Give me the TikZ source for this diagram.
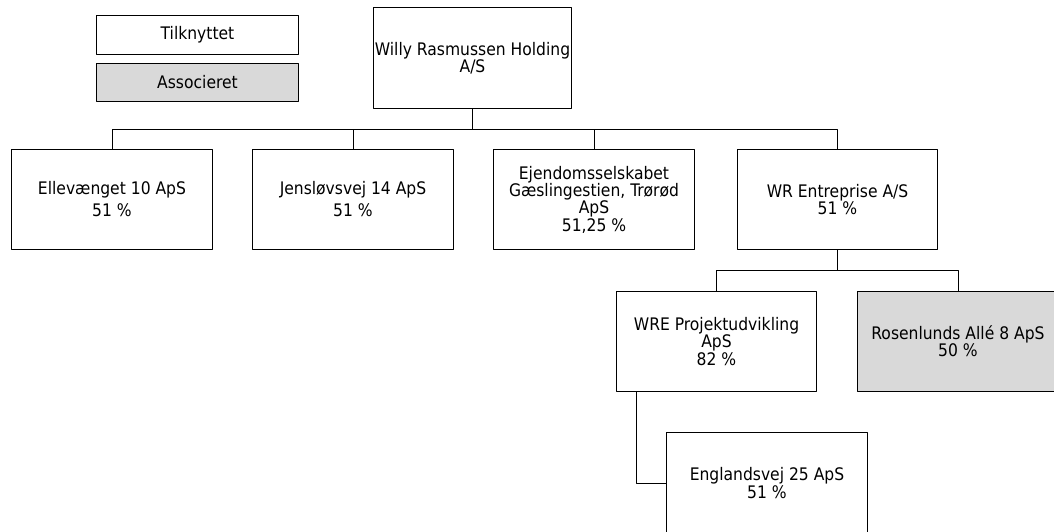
\documentclass[tikz,border=0pt]{standalone}
\usepackage{fontspec}
\setmainfont{DejaVu Sans Condensed}
\definecolor{assocgray}{RGB}{217,217,217}
\begin{document}
\begin{tikzpicture}[x = 0.025cm, y = -0.025cm, line join = round, font = \fontsize{12.3}{12.3}\selectfont,
	box/.style = {rectangle, line width = .25mm, draw = black, anchor = center, outer sep = 0pt, inner sep = 1pt, align = center, minimum width = 5cm, minimum height = 2.5cm},
	legendbox/.style = {box, minimum width = 5.025cm, minimum height = .95cm},
	assoc/.style = {fill = assocgray},
	loose/.style = {font = \fontsize{12.3}{15.6}\selectfont},
	link/.style = {line width = .25mm}]
	%		\draw[gray!50, step = 100] (0,0) grid (1054,532);
	\useasboundingbox (0,0) rectangle (1054,532);
	\clip (0,0) rectangle (1054,532);
	
	% legend
	\node[legendbox] (tilk) at (197.5,35) {Tilknyttet};
	\node[legendbox, assoc] (assocbox) at (197.5,82.5) {Associeret};
	
	% top
	\node[box, minimum width = 4.925cm] (willy) at (472.5,58) {Willy Rasmussen Holding\\A/S};
	
	% second row
	\node[box, loose] (elle) at (112,199.5) {Ellevænget 10 ApS\\51 \%};
	\node[box, loose] (jens) at (353,199.5) {Jensløvsvej 14 ApS\\51 \%};
	\node[box] (ejen) at (594,199.5) {Ejendomsselskabet\\Gæslingestien, Trørød\\ApS\\51,25 \%};
	\node[box] (wre) at (837.5,199.5) {WR Entreprise A/S\\51 \%};
	
	% third row
	\node[box] (proj) at (716.5,341.5) {WRE Projektudvikling\\ApS\\82 \%};
	\node[box, assoc] (rosen) at (958,341.5) {Rosenlunds Allé 8 ApS\\50 \%};
	\node[box] (engl) at (767,483) {Englandsvej 25 ApS\\51 \%};
	
	% connectors
	\foreach \child in {elle, jens, ejen, wre}
		\draw[link] (willy.south) -- ++(0,21) -| (\child.north);
	\foreach \child in {proj, rosen}
		\draw[link] (wre.south) -- ++(0,21) -| (\child.north);
	\draw[link] ([xshift = .5cm]proj.south west) |- (engl.west);
\end{tikzpicture}
\end{document}
